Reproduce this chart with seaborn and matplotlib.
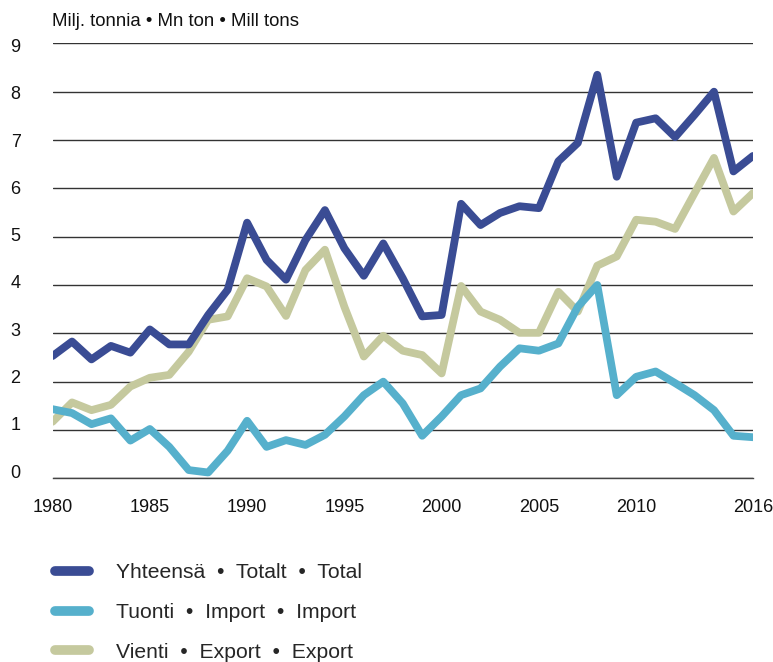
import matplotlib.pyplot as plt
import matplotlib.transforms as mtransforms
import seaborn as sns
import pandas as pd
import numpy as np

sns.set_theme(style='white')
plt.rcParams['font.family'] = ['Liberation Sans', 'DejaVu Sans']

# Data (million tons)
years = list(range(1980, 2017))
total = [2.53, 2.83, 2.46, 2.74, 2.60, 3.08, 2.77, 2.77, 3.38, 3.90,
         5.29, 4.52, 4.11, 4.93, 5.55, 4.76, 4.19, 4.86, 4.14, 3.35,
         3.38, 5.68, 5.24, 5.49, 5.63, 5.59, 6.56, 6.94, 8.35, 6.24,
         7.36, 7.45, 7.06, 7.52, 8.00, 6.35, 6.67]
imports = [1.43, 1.35, 1.12, 1.24, 0.78, 1.02, 0.65, 0.17, 0.12, 0.57,
           1.19, 0.65, 0.79, 0.69, 0.90, 1.28, 1.72, 2.00, 1.55, 0.88,
           1.28, 1.72, 1.86, 2.31, 2.69, 2.64, 2.79, 3.55, 4.00, 1.72,
           2.10, 2.21, 1.97, 1.72, 1.41, 0.88, 0.85]
exports = [1.17, 1.57, 1.41, 1.52, 1.90, 2.08, 2.14, 2.62, 3.28, 3.35,
           4.14, 3.97, 3.36, 4.31, 4.73, 3.55, 2.52, 2.95, 2.64, 2.55,
           2.17, 3.98, 3.45, 3.28, 3.01, 3.01, 3.86, 3.45, 4.40, 4.59,
           5.35, 5.31, 5.16, 5.90, 6.63, 5.52, 5.90]

series_labels = ['Yhteensä  •  Totalt  •  Total',
                 'Tuonti  •  Import  •  Import',
                 'Vienti  •  Export  •  Export']
colors = ['#3a4c94', '#56b0cc', '#c5c99e']
xticks = [1980, 1985, 1990, 1995, 2000, 2005, 2010, 2016]
yticks = list(range(0, 10))

df = pd.DataFrame({
    'year': years * 3,
    'value': total + imports + exports,
    'series': np.repeat(series_labels, len(years)),
})

fig = plt.figure(figsize=(7.73, 6.62), dpi=100)
ax = fig.add_axes([0.068, 0.2775, 0.906, 0.657])

# draw order: export, import, total on top
for lab in [series_labels[2], series_labels[1], series_labels[0]]:
    sub = df[df['series'] == lab]
    sns.lineplot(data=sub, x='year', y='value', ax=ax,
                 color=colors[series_labels.index(lab)],
                 linewidth=5.6, legend=False)

ax.set_xlim(1980, 2016)
ax.set_ylim(0, 9)
ax.set_xticks(xticks)
ax.set_yticks(yticks)
ax.set_xlabel('')
ax.set_ylabel('')
ax.grid(axis='y', color='#333333', linewidth=1.0)
ax.set_axisbelow(True)
for s in ['top', 'right', 'left']:
    ax.spines[s].set_visible(False)
ax.spines['bottom'].set_color('#444444')
ax.spines['bottom'].set_linewidth(1.0)
ax.tick_params(axis='x', direction='out', length=9.5, width=1, color='#555555',
               labelsize=13, pad=5.5, labelcolor='#111111')
ax.tick_params(axis='y', length=0, labelsize=13, pad=23, labelcolor='#111111')

# y labels drift slightly from their gridlines, as in the original
for i, tick in enumerate(ax.yaxis.get_major_ticks()):
    shift = mtransforms.ScaledTranslation(0, (7 - i) / 100, fig.dpi_scale_trans)
    tick.label1.set_transform(tick.label1.get_transform() + shift)

fig.text(0.067, 0.968, 'Milj. tonnia • Mn ton • Mill tons', fontsize=13.4,
         va='center', ha='left', color='#111111')

handles = [plt.Line2D([], [], color=c, linewidth=7, solid_capstyle='round') for c in colors]
fig.legend(handles, series_labels, loc='upper left', bbox_to_anchor=(0.06, 0.162),
           frameon=False, fontsize=15.2, handlelength=1.6, handletextpad=1.3,
           labelspacing=0.98, borderaxespad=0)

fig.savefig('out.png', dpi=100)
